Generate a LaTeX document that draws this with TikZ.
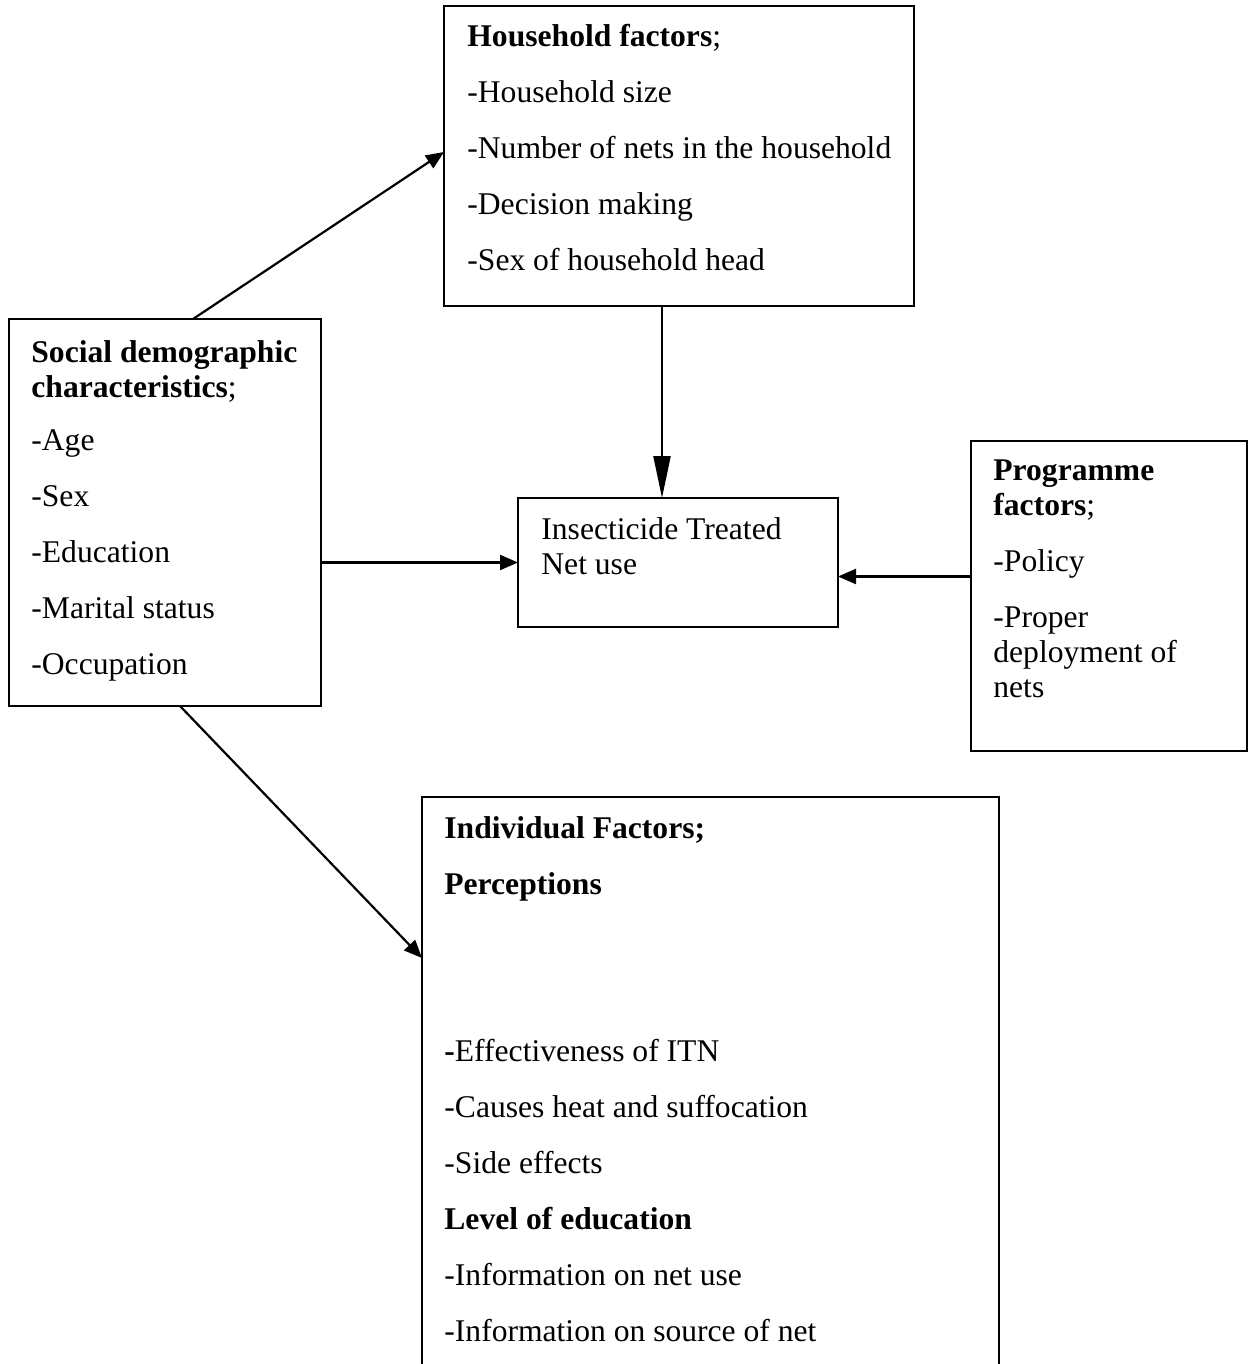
\documentclass[tikz,border=0pt]{standalone}
\usepackage{fontspec}
\setmainfont{Liberation Serif}
\usetikzlibrary{arrows.meta, positioning, calc}

\begin{document}
\begin{tikzpicture}[
  x=0.5pt, y=-0.5pt,
  box/.style={rectangle, draw=black, line width=1pt, anchor=north west,
              inner sep=0pt, outer sep=0pt},
  txt/.style={anchor=base west, inner sep=0pt, align=flush left,
              font=\fontsize{15.8}{28}\selectfont},
  arrow/.style={-{Triangle[length=9pt, width=7.5pt]}, line width=1.1pt},
  longarrow/.style={-{Triangle[length=21pt, width=8.5pt]}, line width=1.1pt}
]
\useasboundingbox (0,0) rectangle (1249,1364);
\clip (0,0) rectangle (1249,1364);

% boxes
\node[box, minimum width=235pt, minimum height=150pt] (household) at (444,6) {};
\node[box, minimum width=156pt, minimum height=193.5pt] (social) at (9,319) {};
\node[box, minimum width=160pt, minimum height=64.5pt] (itn) at (518,498) {};
\node[box, minimum width=138pt, minimum height=155pt] (programme) at (971,441) {};
\node[box, minimum width=288.5pt, minimum height=300pt] (individual) at (422,797) {};

% texts
\node[txt, text width=240pt] (householdtext) at ([shift={(23,41)}]household.north west)
  {\textbf{Household factors};\\-Household size\\-Number of nets in the household\\-Decision making\\-Sex of household head};
\node[txt, text width=160pt] (socialtext) at ([shift={(22,43)}]social.north west)
  {\textbf{Social demographic}\\[-10.5pt]\textbf{characteristics};\\[-1.5pt]-Age\\-Sex\\-Education\\-Marital status\\-Occupation};
\node[txt, text width=160pt] (itntext) at ([shift={(23,41)}]itn.north west)
  {Insecticide Treated\\[-10.5pt]Net use};
\node[txt, text width=130pt] (programmetext) at ([shift={(22,39)}]programme.north west)
  {\textbf{Programme}\\[-10.5pt]\textbf{factors};\\-Policy\\-Proper\\[-10.5pt]deployment of\\[-10.5pt]nets};
\node[txt, text width=280pt] (individualtext) at ([shift={(22,41)}]individual.north west)
  {\textbf{Individual Factors;}\\\textbf{Perceptions}\\[55.5pt]\textbf{-}Effectiveness of ITN\\-Causes heat and suffocation\\-Side effects\\\textbf{Level of education}\\-Information on net use\\-Information on source of net};

% arrows
\coordinate (itntop) at ([xshift=72pt]itn.north west);
\coordinate (itnright) at ([yshift=-7pt]itn.east);
\draw[arrow] ([xshift=92pt]social.north west) -- ([yshift=-73pt]household.north west);
\draw[longarrow] (itntop |- household.south) -- (itntop);
\draw[arrow] (social.east |- itn.west) -- (itn.west);
\draw[arrow] (programme.west |- itnright) -- (itnright);
\draw[arrow] ([xshift=85.5pt]social.south west) -- ([yshift=-80.5pt]individual.north west);

\end{tikzpicture}
\end{document}
